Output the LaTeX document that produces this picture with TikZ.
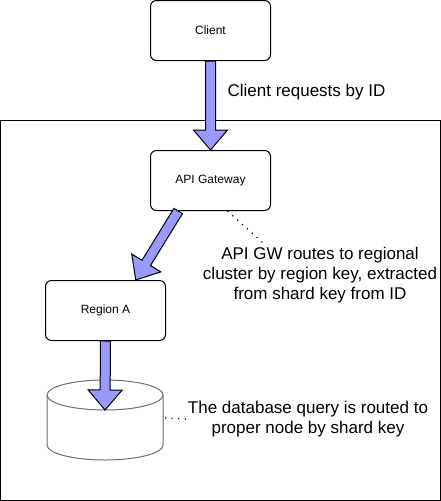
\documentclass[tikz,border=0pt]{standalone}
\usepackage{fontspec}
\setmainfont{Liberation Sans}
\usetikzlibrary{calc}
\definecolor{arrowfill}{HTML}{9999FF}
\definecolor{dbgray}{HTML}{6E6E6E}
% wide block arrow from #1 to #2
\newcommand{\fatarrow}[2]{%
  \draw[fatarr] let \p1=($(#2)-(#1)$), \n1={atan2(\y1,\x1)}, \n2={veclen(\x1,\y1)} in
    [shift={(#1)}, rotate=\n1]
    (0pt,-3.75pt) -- ({\n2-15pt},-3.75pt) -- ({\n2-15pt},-12.75pt) -- ({\n2-0pt},0pt)
    -- ({\n2-15pt},12.75pt) -- ({\n2-15pt},3.75pt) -- (0pt,3.75pt) -- cycle;}
\begin{document}
\begin{tikzpicture}[
  x=0.75pt, y=0.75pt,
  box/.style={draw, line width=0.75pt, rounded corners=4.5pt, minimum width=90pt, minimum height=45pt, font=\fontsize{9}{11}\selectfont},
  note/.style={align=center, inner sep=1pt, font=\fontsize{12.75}{15}\selectfont},
  fatarr/.style={draw=black, fill=arrowfill, line width=0.75pt, line join=miter},
  dots/.style={line width=0.9pt, dash pattern=on 0.9pt off 4pt},
  dbline/.style={draw=dbgray, line width=0.75pt}
]
\useasboundingbox (0,0) rectangle (441,-501);
% outer region frame
\draw[line width=0.75pt] (0.5,-120.5) rectangle (440.3,-500.3);

\node[box] (client) at (210.5,-30.5) {Client};
\node[box] (api) at (210.5,-180.5) {API Gateway};
\node[box] (region) at (105.5,-310.5) {Region A};

% database cylinder
\draw[dbline, fill=white] (47,-395) -- (47,-445) arc[start angle=180, end angle=360, x radius=58, y radius=15] -- (163,-395);
\draw[dbline] (105,-395) ellipse[x radius=58, y radius=15];
\coordinate (dbtop) at (105,-410);
\coordinate (dbside) at (165,-418);

\node[note, anchor=west] (reqnote) at (226,-92) {Client requests by ID};
\node[note] (gwnote) at (320,-275) {API GW routes to regional\\cluster by region key, extracted\\from shard key from ID};
\node[note] (dbnote) at (308,-419) {The database query is routed to\\proper node by shard key};
\coordinate (gwnoteend) at (263,-243);

\fatarrow{client.south}{api.north}
\fatarrow{$(api.south west)!0.233!(api.south east)$}{$(region.north west)!0.75!(region.north east)$}
\fatarrow{region.south}{dbtop}

\draw[dots] ($(api.south west)!0.64!(api.south east)$) -- (gwnoteend);
\draw[dots] (dbside) -- (dbnote.west);
\end{tikzpicture}
\end{document}
